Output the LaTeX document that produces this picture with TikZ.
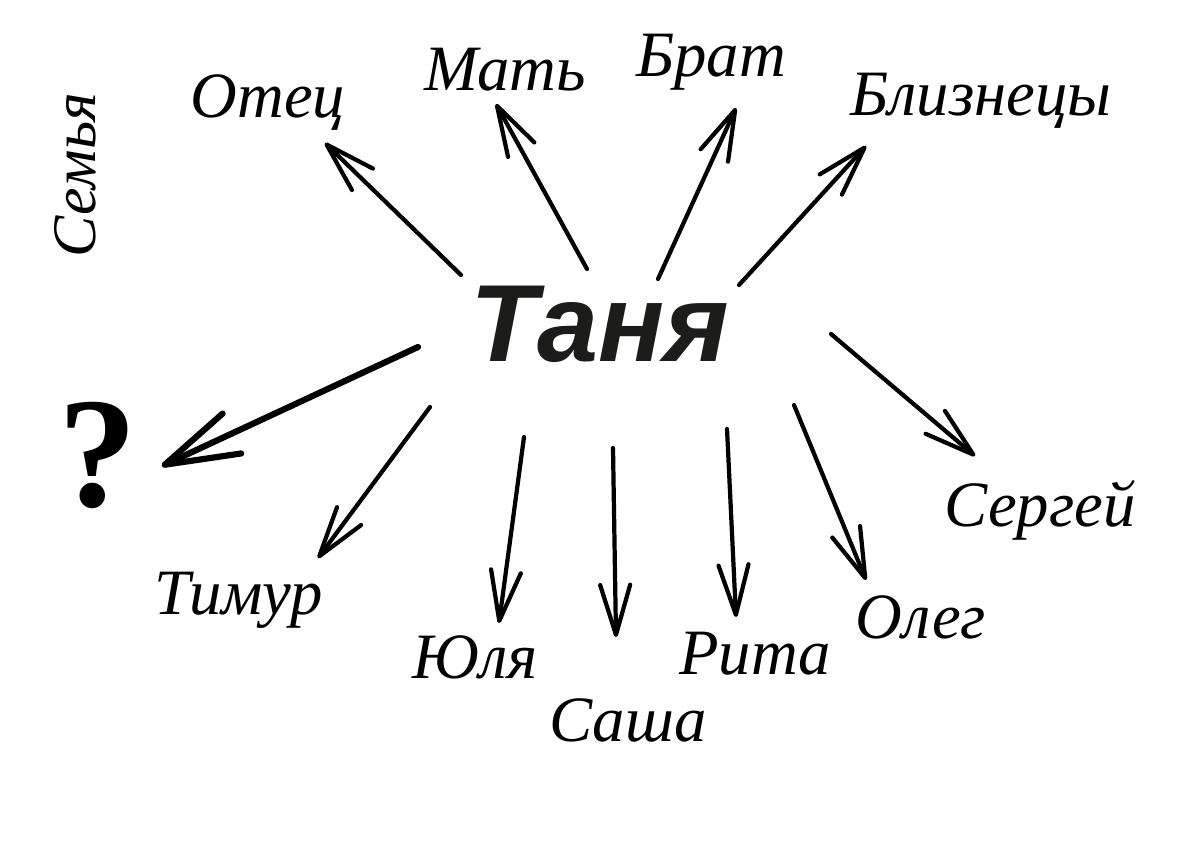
\documentclass[tikz,border=0pt]{standalone}
\usepackage{fontspec}
\setmainfont{Liberation Serif}
\newfontfamily\tanyafont{Liberation Sans}
\usetikzlibrary{arrows.meta}
\definecolor{Ink}{HTML}{1C1C1A}
\tikzset{
 person/.style={font=\itshape\fontsize{46}{50}\selectfont,inner sep=0pt},
 hub/.style={font=\tanyafont\bfseries\itshape\fontsize{78}{82}\selectfont,text=Ink,inner sep=0pt},
 arr/.style={-{Straight Barb[length=1.25cm,width=.75cm,round]},line width=3pt,line cap=round},
 qarr/.style={arr,-{Straight Barb[length=1.85cm,width=1.1cm,round]},line width=4.4pt}
}
\begin{document}
\begin{tikzpicture}[x=.025cm,y=-.025cm]
\useasboundingbox (0,0) rectangle (1200,847);
\node[hub] (tanya) at (600,324) {Таня};
\node[person,rotate=90,font=\itshape\fontsize{44}{48}\selectfont] (semya) at (75,175) {Семья};
\node[font=\bfseries\fontsize{112}{120}\selectfont,inner sep=0pt] (q) at (98,455) {?};
\foreach \nm/\x/\y/\txt in {otec/268/103/Отец,mat/505/70/Мать,brat/711/62/Брат,
  bliz/981/101/Близнецы,sergey/1040/510/Сергей,oleg/921/617/Олег,rita/755/654/Рита,
  sasha/628/720/Саша,yulya/475/657/Юля,timur/239/600/Тимур} {
 \node[person] (\nm) at (\x,\y) {\txt};
}
% arrows out of the hub
\foreach \nm/\ax/\ay/\bx/\by in {otec/461/275/325/143,mat/587/269/496/104,brat/658/279/736/108,
  bliz/739/285/866/146,sergey/831/334/975/456,oleg/794/405/866/580,rita/727/429/736/617,
  sasha/613/448/616/637,yulya/524/437/499/623,timur/430/407/318/558} {
 \coordinate (\nm-from) at (\ax,\ay);
 \coordinate (\nm-to) at (\bx,\by);
 \draw[arr] (\nm-from) -- (\nm-to);
}
\coordinate (q-from) at (418,347);
\coordinate (q-to) at (162,466);
\draw[qarr] (q-from) -- (q-to);
\end{tikzpicture}
\end{document}
